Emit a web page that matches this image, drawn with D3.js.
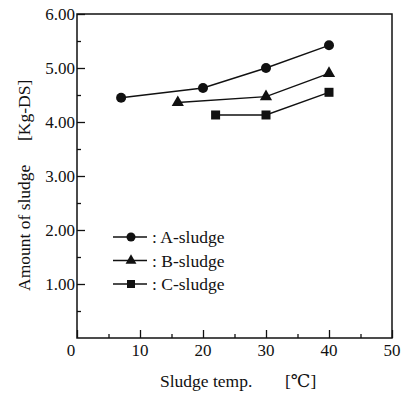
<!DOCTYPE html>
<html><head><meta charset="utf-8">
<script src="https://cdn.jsdelivr.net/npm/d3@7"></script>
<style>body{margin:0;background:#fff}</style>
</head><body>
<svg id="c" width="410" height="396" font-family="'Liberation Serif', 'DejaVu Serif', 'Times New Roman', serif"></svg>
<script>
const seriesNames = ["A-sludge", "B-sludge", "C-sludge"];
const seriesMarkers = ["circle", "triangle", "square"];
const tempA = [7, 20, 30, 40];
const amountA = [4.45, 4.63, 5.00, 5.42];
const tempB = [16, 30, 40];
const amountB = [4.36, 4.47, 4.90];
const tempC = [22, 30, 40];
const amountC = [4.13, 4.13, 4.55];
const xTicks = [0, 10, 20, 30, 40, 50];
const xMinorTicks = [5, 15, 25, 35, 45];
const yTicks = [1, 2, 3, 4, 5, 6];
const yMinorTicks = [0.5, 1.5, 2.5, 3.5, 4.5, 5.5];

const svg = d3.select("#c");
const FONT = "'Liberation Serif', 'DejaVu Serif', serif";
const L = 77, R = 392, T = 14, B = 338;
const x = d3.scaleLinear().domain([0, 50]).range([L, R]);
const y = d3.scaleLinear().domain([0, 6]).range([B, T]);

svg.append("rect").attr("x", L).attr("y", T).attr("width", R - L).attr("height", B - T)
  .attr("fill", "none").attr("stroke", "#111").attr("stroke-width", 1.5);

function ax(g, a) { g.call(a); g.select(".domain").remove(); }
ax(svg.append("g").attr("transform", `translate(0,${B})`), d3.axisTop(x).tickValues(xTicks).tickSize(8).tickFormat(""));
ax(svg.append("g").attr("transform", `translate(0,${B})`), d3.axisTop(x).tickValues(xMinorTicks).tickSize(4).tickFormat(""));
ax(svg.append("g").attr("transform", `translate(${L},0)`), d3.axisRight(y).tickValues(yTicks).tickSize(8).tickFormat(""));
ax(svg.append("g").attr("transform", `translate(${L},0)`), d3.axisRight(y).tickValues(yMinorTicks).tickSize(4).tickFormat(""));
svg.selectAll(".tick line").attr("stroke", "#111").attr("stroke-width", 1.3);

svg.append("g").selectAll("text").data(xTicks).join("text")
  .attr("font-family", FONT).attr("fill", "#111")
  .attr("x", d => x(d) - (d === 0 ? 6 : 0)).attr("y", B + 18).attr("text-anchor", "middle")
  .attr("font-size", 17).text(d => d);
svg.append("g").selectAll("text").data(yTicks).join("text")
  .attr("font-family", FONT).attr("fill", "#111")
  .attr("x", L - 2).attr("y", d => y(d) + 6).attr("text-anchor", "end")
  .attr("font-size", 17).text(d => d.toFixed(2));

const xt = svg.append("text").attr("font-family", FONT).attr("fill", "#111")
  .attr("y", 387).attr("font-size", 17.5);
xt.append("tspan").attr("x", 160).text("Sludge temp.");
xt.append("tspan").attr("x", 285).text("[\u2103]");
const yt = svg.append("text").attr("font-family", FONT).attr("fill", "#111")
  .attr("transform", "translate(30,0) rotate(-90)").attr("font-size", 17.5);
yt.append("tspan").attr("x", -291).text("Amount of sludge");
yt.append("tspan").attr("x", -141).text("[Kg-DS]");

function marker(g, type, cx, cy, s) {
  if (type === "circle") g.append("circle").attr("cx", cx).attr("cy", cy).attr("r", s).attr("fill", "#111");
  else if (type === "triangle") g.append("path").attr("d", d3.symbol(d3.symbolTriangle, s * s * 3.2)()).attr("transform", `translate(${cx},${cy})`).attr("fill", "#111");
  else g.append("rect").attr("x", cx - s).attr("y", cy - s).attr("width", 2 * s).attr("height", 2 * s).attr("fill", "#111");
}

const data = [
  tempA.map((t, i) => [t, amountA[i]]),
  tempB.map((t, i) => [t, amountB[i]]),
  tempC.map((t, i) => [t, amountC[i]])
];
const line = d3.line().x(d => x(d[0])).y(d => y(d[1]));
data.forEach((s, k) => {
  const g = svg.append("g");
  g.append("path").attr("d", line(s)).attr("fill", "none").attr("stroke", "#111").attr("stroke-width", 1.4);
  s.forEach(d => marker(g, seriesMarkers[k], x(d[0]), y(d[1]), seriesMarkers[k] === "circle" ? 5 : 4.5));
});

seriesNames.forEach((n, k) => {
  const ly = 237 + k * 23.5;
  const g = svg.append("g");
  g.append("line").attr("x1", 113).attr("x2", 147).attr("y1", ly).attr("y2", ly).attr("stroke", "#111").attr("stroke-width", 1.4);
  marker(g, seriesMarkers[k], 131, ly, seriesMarkers[k] === "circle" ? 4.5 : 4);
  g.append("text").attr("font-family", FONT).attr("fill", "#111")
    .attr("x", 152).attr("y", ly + 6).attr("font-size", 17.5).text(": " + n);
});
</script>
</body></html>
